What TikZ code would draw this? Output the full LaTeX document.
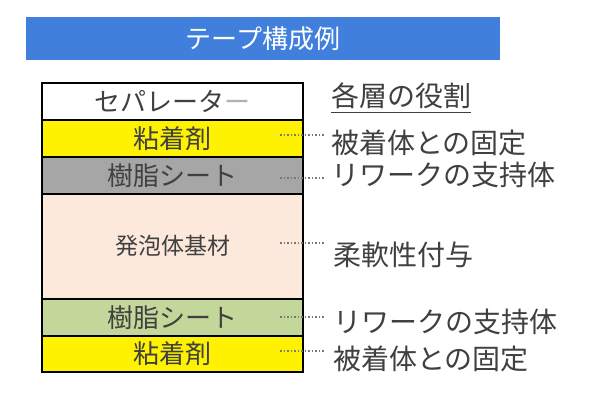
\documentclass[tikz,border=0pt]{standalone}
\usepackage{fontspec}
\newfontfamily\jp{Noto Sans CJK JP}
\definecolor{titleblue}{RGB}{64,128,220}
\definecolor{layergray}{RGB}{166,166,166}
\definecolor{foam}{RGB}{252,233,219}
\definecolor{sheetgreen}{RGB}{196,215,155}
\definecolor{txtdark}{RGB}{64,64,64}
\definecolor{dotgray}{RGB}{120,120,120}
\begin{document}
\begin{tikzpicture}[x=1pt,y=-1pt,
  layer/.style={draw=black,line width=1.5pt,minimum width=261pt,inner sep=0pt,outer sep=0pt,anchor=north west,text=txtdark,font=\jp\fontsize{26}{28}\selectfont},
  role/.style={anchor=west,inner sep=0pt,text=txtdark,font=\jp\fontsize{28}{30}\selectfont},
  leader/.style={dotgray,line width=1.2pt,dash pattern=on 1.5pt off 2pt}
]
\useasboundingbox (0,0) rectangle (596,418);
\fill[white] (0,0) rectangle (596,418);
% title
\node[fill=titleblue,minimum width=474pt,minimum height=43pt,inner sep=0pt,anchor=north west,text=white,font=\jp\fontsize{26}{28}\selectfont] (title) at (26,17) {テープ構成例};
% layers
\node[layer,fill=white,minimum height=37pt] (sep) at (42,83) {セパレータ\textcolor{gray!60}{ー}};
\node[layer,fill=yellow,minimum height=37pt] (adh1) at (42,120) {粘着剤};
\node[layer,fill=layergray,minimum height=37pt] (res1) at (42,157) {樹脂シート};
\node[layer,fill=foam,minimum height=105pt] (foam) at (42,194) {};
\node[text=txtdark,font=\jp\fontsize{23}{25}\selectfont,inner sep=0pt] (foamtxt) at (173,246) {発泡体基材};
\node[layer,fill=sheetgreen,minimum height=37pt] (res2) at (42,299) {樹脂シート};
\node[layer,fill=yellow,minimum height=36pt] (adh2) at (42,336) {粘着剤};
% roles
\node[role] (head) at (331,96) {各層の役割};
\draw[txtdark,line width=1pt] (head.south west) ++(0,3) coordinate (ul1) -- (head.south east |- ul1);
\node[role] (r1) at (331,143) {被着体との固定};
\node[role] (r2) at (331,175) {リワークの支持体};
\node[role] (r3) at (333,255) {柔軟性付与};
\node[role] (r4) at (333,322) {リワークの支持体};
\node[role] (r5) at (333,359) {被着体との固定};
% leaders
\draw[leader] ([xshift=-23pt,yshift=3.5pt]adh1.east) coordinate (l1) -- ([xshift=-6pt]r1.west |- l1);
\draw[leader] ([xshift=-23pt,yshift=-2.5pt]res1.east) coordinate (l2) -- ([xshift=-6pt]r2.west |- l2);
\draw[leader] ([xshift=-23pt,yshift=3.5pt]foam.east) coordinate (l3) -- ([xshift=-8pt]r3.west |- l3);
\draw[leader] ([xshift=-23pt,yshift=0.5pt]res2.east) coordinate (l4) -- ([xshift=-8pt]r4.west |- l4);
\draw[leader] ([xshift=-23pt,yshift=3pt]adh2.east) coordinate (l5) -- ([xshift=-8pt]r5.west |- l5);
\end{tikzpicture}
\end{document}
